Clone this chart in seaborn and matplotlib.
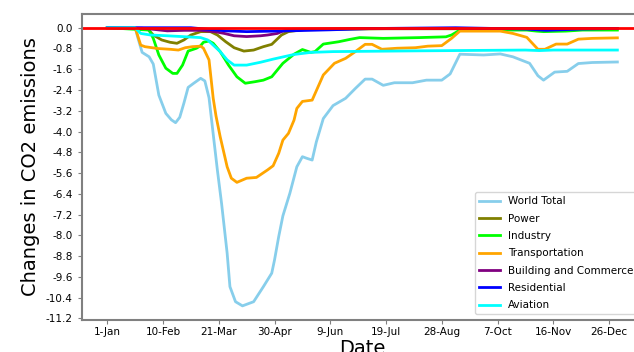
"""
Daily changes in CO2 emissions by sector during 2020 (line chart).
"""

import pandas as pd
import matplotlib
matplotlib.use('Agg')
import matplotlib.pyplot as plt
import seaborn as sns

# Day of year (0 = 1-Jan-2020) and change in CO2 emissions
world_days = [0, 20, 22, 25, 30, 33, 37, 42, 46, 49, 52, 55, 58, 62, 67, 70, 73, 76, 79, 82, 86, 88, 92,
              97, 105, 112, 118, 120, 123, 126, 131, 136, 140, 143, 147, 150, 155, 162, 171, 178, 185,
              190, 198, 206, 219, 229, 240, 246, 253, 270, 282, 291, 303, 309, 313, 321, 330, 338, 348, 366]
world_vals = [0.0, 0.0, -0.4, -0.95, -1.12, -1.4, -2.6, -3.3, -3.55, -3.66, -3.45, -2.9, -2.3, -2.14, -1.95,
              -2.05, -2.7, -4.1, -5.49, -6.77, -8.69, -9.98, -10.56, -10.72, -10.56, -9.98, -9.46, -8.95,
              -8.05, -7.25, -6.38, -5.36, -4.97, -5.03, -5.1, -4.4, -3.5, -3.0, -2.72, -2.34, -1.98, -1.98,
              -2.22, -2.12, -2.12, -2.02, -2.02, -1.78, -1.02, -1.05, -1.01, -1.12, -1.37, -1.85, -2.02,
              -1.71, -1.68, -1.38, -1.34, -1.32]

power_days = [0, 29, 33, 39, 45, 50, 55, 60, 67, 74, 79, 85, 91, 98, 105, 112, 118, 125, 130, 141, 200, 366]
power_vals = [0.0, -0.05, -0.28, -0.47, -0.56, -0.6, -0.47, -0.28, -0.15, -0.15, -0.28, -0.54, -0.77,
              -0.9, -0.86, -0.73, -0.64, -0.28, -0.15, -0.07, -0.04, -0.04]

industry_days = [0, 30, 33, 37, 42, 47, 50, 54, 58, 64, 67, 69, 73, 76, 81, 87, 93, 99, 106, 112, 118,
                 126, 134, 140, 146, 149, 155, 166, 174, 181, 198, 224, 243, 247, 253, 301, 308, 313,
                 329, 341, 366]
industry_vals = [0.0, -0.09, -0.41, -1.05, -1.56, -1.76, -1.76, -1.44, -0.9, -0.79, -0.69, -0.56, -0.51,
                 -0.6, -0.92, -1.44, -1.89, -2.14, -2.08, -2.02, -1.89, -1.37, -1.02, -0.84, -0.95, -0.92,
                 -0.63, -0.54, -0.45, -0.38, -0.41, -0.38, -0.35, -0.28, -0.09, -0.09, -0.13, -0.15,
                 -0.13, -0.09, -0.09]

transport_days = [0, 20, 24, 27, 36, 45, 51, 56, 61, 67, 69, 73, 76, 78, 81, 86, 89, 93, 100, 107, 115,
                  119, 123, 126, 130, 134, 136, 140, 147, 155, 163, 171, 178, 185, 190, 197, 208, 221,
                  230, 240, 247, 253, 282, 291, 301, 305, 309, 314, 322, 330, 338, 348, 366]
transport_vals = [0.0, 0.0, -0.67, -0.73, -0.8, -0.83, -0.86, -0.77, -0.73, -0.71, -0.79, -1.24, -2.72,
                  -3.4, -4.2, -5.36, -5.8, -5.96, -5.8, -5.77, -5.48, -5.32, -4.84, -4.33, -4.07, -3.56,
                  -3.11, -2.84, -2.79, -1.82, -1.37, -1.18, -0.92, -0.64, -0.64, -0.83, -0.79, -0.77,
                  -0.71, -0.69, -0.41, -0.13, -0.13, -0.22, -0.37, -0.6, -0.83, -0.83, -0.63, -0.63,
                  -0.44, -0.41, -0.39]

building_days = [0, 25, 33, 43, 55, 67, 78, 84, 91, 100, 110, 115, 122, 126, 133, 180, 366]
building_vals = [0.0, -0.02, -0.06, -0.12, -0.1, -0.1, -0.16, -0.22, -0.31, -0.34, -0.31, -0.28, -0.22,
                 -0.13, -0.06, -0.03, -0.03]

residential_days = [0, 60, 70, 85, 100, 130, 160, 190, 250, 300, 315, 340, 366]
residential_vals = [0.0, 0.0, -0.05, -0.12, -0.15, -0.12, -0.08, -0.03, 0.0, -0.05, -0.1, -0.05, -0.03]

aviation_days = [0, 20, 24, 31, 43, 57, 67, 72, 76, 81, 86, 91, 100, 110, 119, 134, 146, 162, 224, 300,
                 310, 320, 366]
aviation_vals = [0.0, 0.0, -0.22, -0.28, -0.31, -0.35, -0.38, -0.47, -0.67, -0.92, -1.24, -1.44, -1.44,
                 -1.33, -1.21, -1.03, -0.95, -0.92, -0.89, -0.86, -0.88, -0.86, -0.86]

series_names = ['World Total', 'Power', 'Industry', 'Transportation',
                'Building and Commerce', 'Residential', 'Aviation']
series_colors = ['skyblue', 'olive', 'lime', 'orange', 'purple', 'blue', 'cyan']

tick_days = [0, 40, 80, 120, 160, 200, 240, 280, 320, 360]
tick_labels = ['1-Jan', '10-Feb', '21-Mar', '30-Apr', '9-Jun', '19-Jul', '28-Aug', '7-Oct', '16-Nov', '26-Dec']
y_ticks = [0.0, -0.8, -1.6, -2.4, -3.2, -4.0, -4.8, -5.6, -6.4, -7.2, -8.0, -8.8, -9.6, -10.4, -11.2]

# Build one long table for seaborn
parts = []
for name, days, vals in [('World Total', world_days, world_vals),
                         ('Power', power_days, power_vals),
                         ('Industry', industry_days, industry_vals),
                         ('Transportation', transport_days, transport_vals),
                         ('Building and Commerce', building_days, building_vals),
                         ('Residential', residential_days, residential_vals),
                         ('Aviation', aviation_days, aviation_vals)]:
    parts.append(pd.DataFrame({'day': days, 'value': vals, 'sector': name}))
df = pd.concat(parts, ignore_index=True)

fig = plt.figure(figsize=(6.34, 3.52), dpi=100)
ax = fig.add_axes([0.129, 0.092, 0.885, 0.869])

sns.lineplot(data=df, x='day', y='value', hue='sector', hue_order=series_names,
             palette=series_colors, linewidth=2, ax=ax, sort=True, estimator=None)
ax.axhline(0, color='red', linewidth=2)

ax.set_xlim(-18.3, 384.3)
ax.set_ylim(-11.25, 0.54)
ax.set_xticks(tick_days)
ax.set_xticklabels(tick_labels)
ax.set_yticks(y_ticks)
ax.set_yticklabels([f'{v:.1f}' for v in y_ticks])
ax.tick_params(labelsize=7.5, color='#808080', length=3)
ax.tick_params(axis='x', pad=2.5)
ax.set_xlabel('Date', fontsize=14, labelpad=1)
ax.set_ylabel('Changes in CO2 emissions', fontsize=14)
for s in ax.spines.values():
    s.set_color('#808080')
    s.set_linewidth(1.5)

ax.legend(loc='lower right', fontsize=7.5, frameon=True, labelspacing=0.7)

plt.savefig('out.png', dpi=100)
